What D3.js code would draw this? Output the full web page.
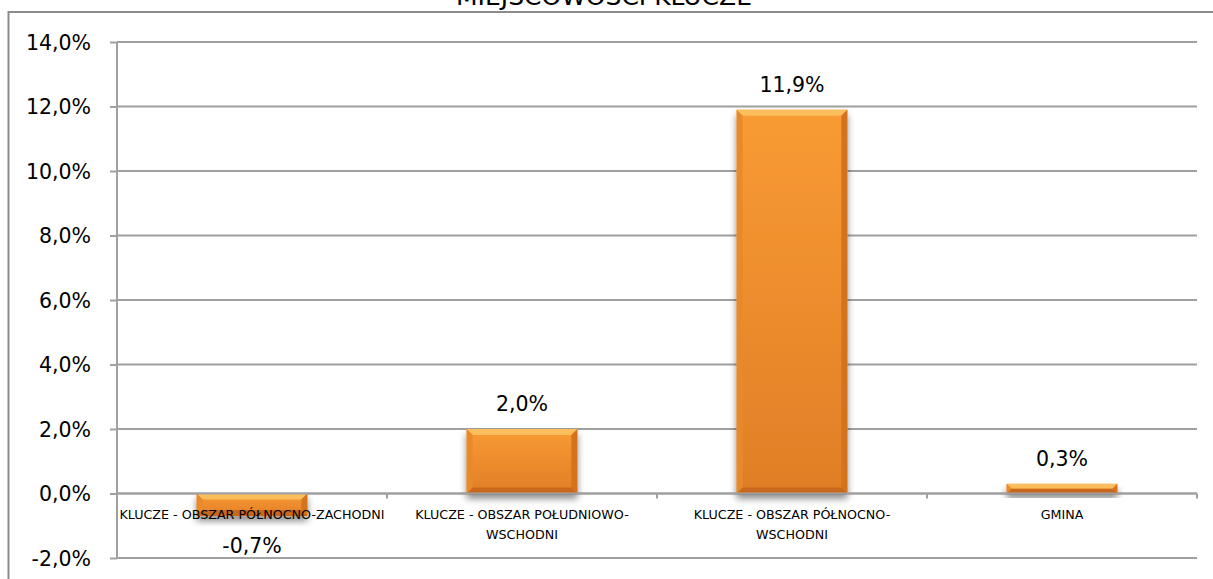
<!DOCTYPE html>
<html><head><meta charset="utf-8">
<script src="https://cdn.jsdelivr.net/npm/d3@7"></script>
<style>body{margin:0;background:#fff}svg{display:block}</style>
</head><body>
<svg id="chart" width="1213" height="579"></svg>
<script>
const title = "MIEJSCOWOŚCI KLUCZE";
const categories = ["KLUCZE - OBSZAR PÓŁNOCNO-ZACHODNI", "KLUCZE - OBSZAR POŁUDNIOWO-\nWSCHODNI", "KLUCZE - OBSZAR PÓŁNOCNO-\nWSCHODNI", "GMINA"];
const values = [-0.7, 2.0, 11.9, 0.3];
const yTicks = [-2, 0, 2, 4, 6, 8, 10, 12, 14];

const FONT = "'DejaVu Sans', Verdana, sans-serif";
const svg = d3.select("#chart");
const W = 1213, H = 579;
const plot = {left: 117, right: 1197, top: 42, bottom: 558};

const fmt = v => v.toFixed(1).replace(".", ",") + "%";

const y = d3.scaleLinear().domain([-2, 14]).range([plot.bottom, plot.top]);
const x = d3.scaleBand().domain(categories).range([plot.left, plot.right]).paddingInner(0.59).paddingOuter(0.295);

const defs = svg.append("defs");
const body = defs.append("linearGradient").attr("id", "body").attr("x1", 0).attr("y1", 0).attr("x2", 0).attr("y2", 1);
body.append("stop").attr("offset", "0%").attr("stop-color", "#F99B33");
body.append("stop").attr("offset", "100%").attr("stop-color", "#E07E27");
const f = defs.append("filter").attr("id", "shadow").attr("x", "-20%").attr("y", "-20%").attr("width", "140%").attr("height", "160%");
f.append("feGaussianBlur").attr("in", "SourceAlpha").attr("stdDeviation", 3.5).attr("result", "b");
f.append("feOffset").attr("in", "b").attr("dx", 0).attr("dy", 5).attr("result", "o");
f.append("feComponentTransfer").attr("in", "o").attr("result", "s")
  .append("feFuncA").attr("type", "linear").attr("slope", 0.45);
const m = f.append("feMerge");
m.append("feMergeNode").attr("in", "s");
m.append("feMergeNode").attr("in", "SourceGraphic");

// outer frame
svg.append("rect").attr("x", 8.5).attr("y", 12).attr("width", W).attr("height", H)
  .attr("fill", "none").attr("stroke", "#8c8c8c").attr("stroke-width", 2);

// title (clipped at top like the reference)
svg.append("text").attr("x", 604).attr("y", 5).attr("text-anchor", "middle")
  .attr("font-family", FONT).attr("font-size", 25).attr("fill", "#000").text(title);

// gridlines
svg.append("g").selectAll("line").data(yTicks).join("line")
  .attr("x1", plot.left).attr("x2", plot.right)
  .attr("y1", d => y(d)).attr("y2", d => y(d))
  .attr("stroke", "#a0a0a0").attr("stroke-width", 2);

// y axis
const yAxis = svg.append("g").attr("transform", `translate(${plot.left},0)`)
  .call(d3.axisLeft(y).tickValues(yTicks).tickFormat(fmt).tickSize(7).tickPadding(19));
yAxis.select(".domain").attr("stroke", "#a0a0a0").attr("stroke-width", 2).attr("d", `M0,${plot.top}V${plot.bottom}`);
yAxis.selectAll(".tick line").attr("stroke", "#a0a0a0").attr("stroke-width", 2);
yAxis.selectAll(".tick text").attr("font-family", FONT).attr("font-size", 20.5).attr("fill", "#000").attr("dy", "0.36em");

// bars
const bars = svg.append("g").selectAll("g").data(categories.map((c, i) => ({c, v: values[i]}))).join("g")
  .attr("filter", "url(#shadow)");
bars.each(function(d) {
  const g = d3.select(this);
  const x0 = x(d.c), w = x.bandwidth();
  const y0 = Math.min(y(d.v), y(0)), y1 = Math.max(y(d.v), y(0));
  const h = y1 - y0;
  const b = Math.min(6, h / 2);
  g.append("rect").attr("x", x0).attr("y", y0).attr("width", w).attr("height", h).attr("fill", "url(#body)");
  g.append("path").attr("d", `M${x0},${y0}H${x0 + w}L${x0 + w - b},${y0 + b}H${x0 + b}Z`).attr("fill", "#FDC262").attr("opacity", 0.9);
  g.append("path").attr("d", `M${x0},${y0}L${x0 + b},${y0 + b}V${y1 - b}L${x0},${y1}Z`).attr("fill", "#E98A2C");
  g.append("path").attr("d", `M${x0 + w},${y0}L${x0 + w - b},${y0 + b}V${y1 - b}L${x0 + w},${y1}Z`).attr("fill", "#D4731F");
  g.append("path").attr("d", `M${x0},${y1}L${x0 + b},${y1 - b}H${x0 + w - b}L${x0 + w},${y1}Z`).attr("fill", "#C9681B");
});

// x axis line at zero with tick marks on category boundaries
svg.append("line").attr("x1", plot.left).attr("x2", plot.right).attr("y1", y(0)).attr("y2", y(0))
  .attr("stroke", "#a0a0a0").attr("stroke-width", 2);
const bounds = categories.map(c => x(c) - x.step() * x.paddingInner() / 2 + x.step());
svg.append("g").selectAll("line").data(bounds).join("line")
  .attr("x1", d => d).attr("x2", d => d).attr("y1", y(0)).attr("y2", y(0) + 5)
  .attr("stroke", "#a0a0a0").attr("stroke-width", 2);

// category labels (line breaks as in the reference)
const labG = svg.append("g").attr("font-family", FONT).attr("font-size", 12.7).attr("fill", "#000");
categories.forEach(c => {
  const cx = x(c) + x.bandwidth() / 2;
  const t = labG.append("text").attr("x", cx).attr("y", y(0) + 25).attr("text-anchor", "middle");
  c.split("\n").forEach((l, i) => t.append("tspan").attr("x", cx).attr("dy", i ? 20 : 0).text(l));
});

// value labels
svg.append("g").selectAll("text").data(categories.map((c, i) => ({c, v: values[i]}))).join("text")
  .attr("x", d => x(d.c) + x.bandwidth() / 2)
  .attr("y", d => d.v >= 0 ? y(d.v) - 18 : y(d.v) + 37)
  .attr("text-anchor", "middle").attr("font-family", FONT).attr("font-size", 20.5).attr("fill", "#000")
  .text(d => fmt(d.v));
</script>
</body></html>
